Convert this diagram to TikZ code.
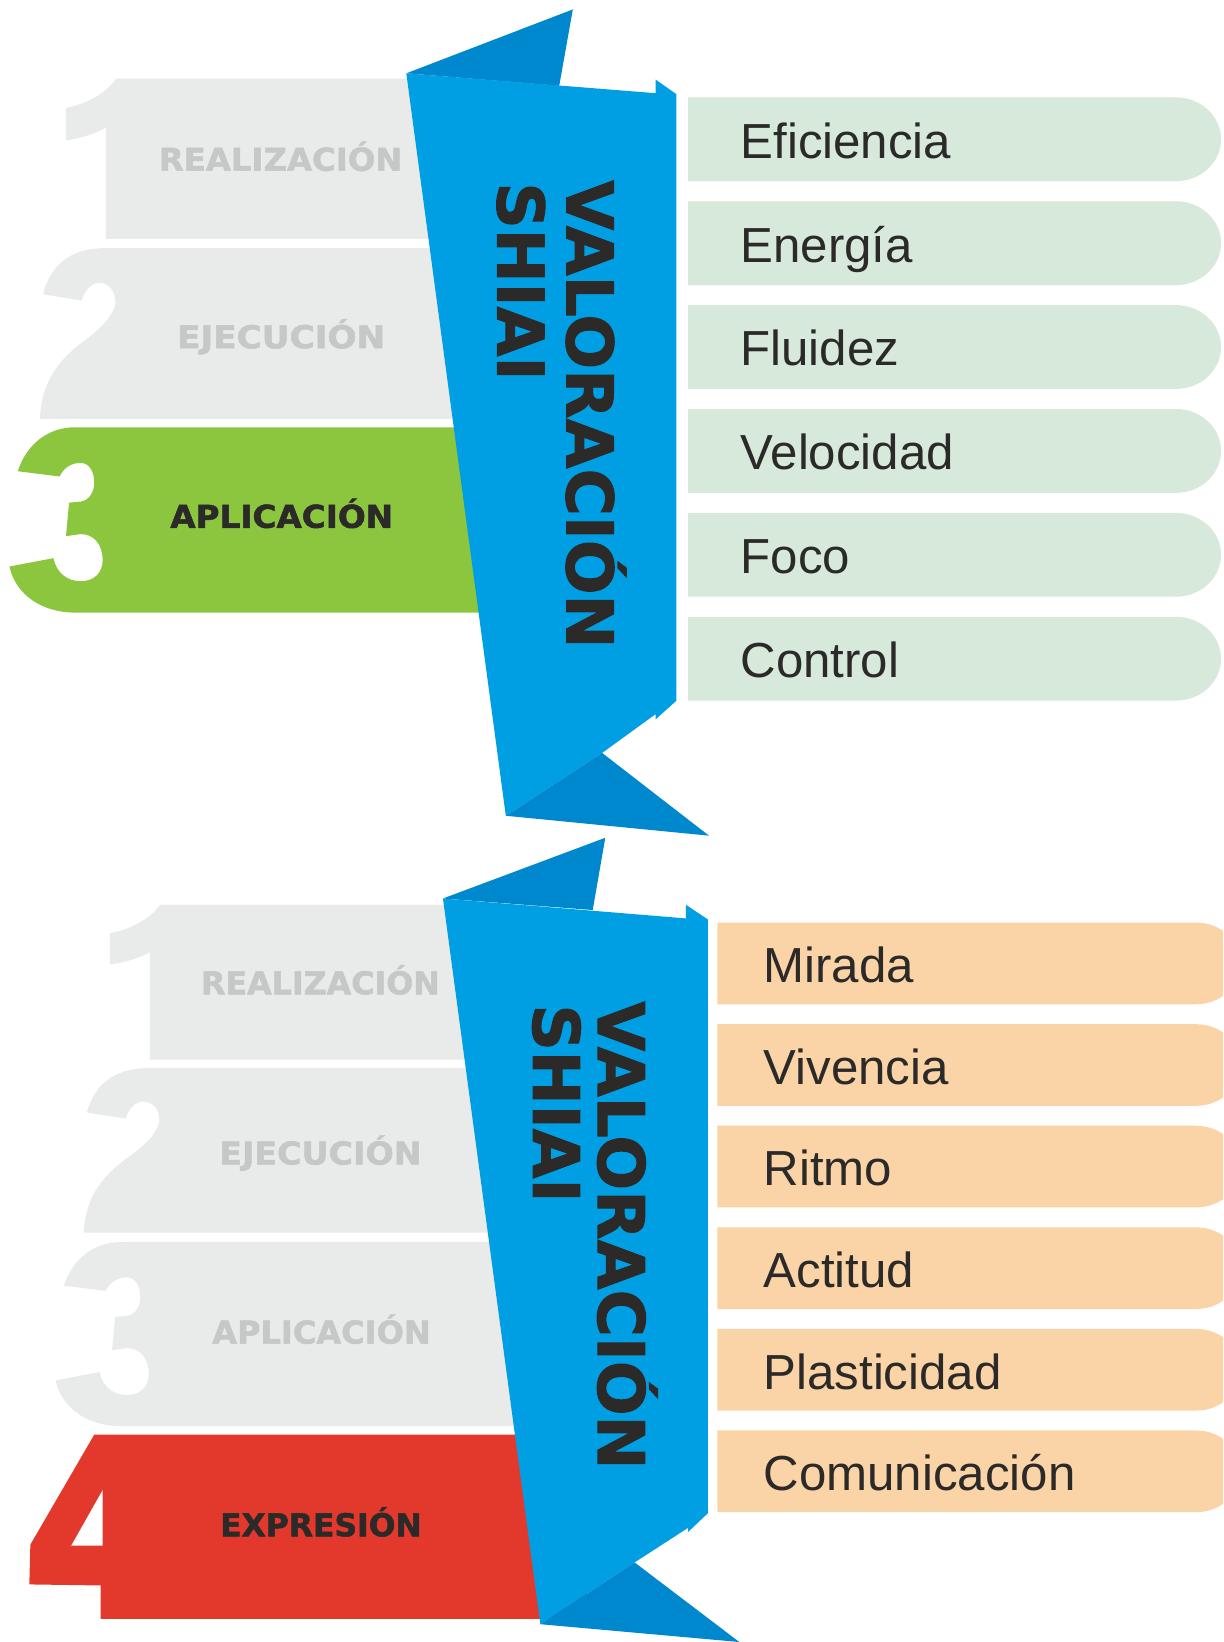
\documentclass[tikz,border=0pt]{standalone}
\usepackage{fontspec}
\setmainfont{Liberation Sans}
\newfontfamily\heavy{DejaVu Sans}[BoldFeatures={FakeBold=1.6}]
\definecolor{bannerblue}{HTML}{009FE3}
\definecolor{bannerdark}{HTML}{0088CF}
\definecolor{stepgray}{HTML}{E9EBEA}
\definecolor{labelgray}{HTML}{C6C7C7}
\definecolor{stepgreen}{HTML}{8CC63F}
\definecolor{stepred}{HTML}{E3392D}
\definecolor{textdark}{HTML}{2B2A29}
\definecolor{pillgreen}{HTML}{D6E9DA}
\definecolor{pillorange}{HTML}{FAD4A6}
\newcommand\shapeOne[1]{\fill[#1] (111,0) -- (480,0) -- (480,153) -- (101,153) -- (101,47)
  .. controls (92,52) and (78,57) .. (63,59) -- (63,28) .. controls (85,24) and (103,12) .. (111,0) -- cycle;}
\newcommand\shapeTwo[1]{\fill[#1] (38,163) .. controls (40,123) and (60,103) .. (85,85)
  .. controls (100,73) and (112,60) .. (110,48) .. controls (108,36) and (100,33) .. (94,33)
  .. controls (86,34) and (80,42) .. (78,50) -- (41,44) .. controls (48,18) and (65,0) .. (100,0)
  -- (480,0) -- (480,163) -- cycle;}
\newcommand\shapeThree[1]{\fill[#1] (72,0) -- (480,0) -- (480,177) -- (72,177)
  .. controls (40,177) and (15,160) .. (9,133) -- (51,125) .. controls (54,139) and (64,147) .. (77,147)
  .. controls (91,147) and (98,138) .. (98,127) .. controls (98,111) and (89,102) .. (77,102)
  -- (63,104) -- (66,72) -- (77,71) .. controls (85,70) and (90,62) .. (90,53)
  .. controls (90,42) and (85,34) .. (77,34) .. controls (67,34) and (60,40) .. (57,47)
  -- (17,42) .. controls (25,17) and (45,0) .. (72,0) -- cycle;}
\newcommand\wide[2]{\scalebox{#1}[1]{#2}}
\begin{document}
\begin{tikzpicture}[x=1pt,y=-1pt,
  steplabel/.style={font=\heavy\bfseries\fontsize{30}{30}\selectfont, anchor=base, inner sep=0},
  titletext/.style={font=\heavy\bfseries\fontsize{61.5}{60}\selectfont, text=textdark, rotate=-90, anchor=base west, inner sep=0},
  pilltext/.style={font=\fontsize{47}{47}\selectfont, text=textdark, anchor=base west, inner sep=0}]
\useasboundingbox (0,0) rectangle (1168,1568);
\clip (0,0) rectangle (1168,1568);
\fill[white] (0,0) rectangle (1168,1568);

% ---------- top group: steps ----------
\begin{scope}[shift={(0,75)}]\shapeOne{stepgray}\end{scope}
\begin{scope}[shift={(0,237)}]\shapeTwo{stepgray}\end{scope}
\begin{scope}[shift={(0,408)}]\shapeThree{stepgreen}\end{scope}
\node[steplabel, text=labelgray] (t1) at (268,163) {\wide{1.03}{REALIZACIÓN}};
\node[steplabel, text=labelgray] (t2) at (268.5,332.5) {\wide{1.09}{EJECUCIÓN}};
\node[steplabel, text=textdark] (t3) at (269,504) {\wide{1.04}{APLICACIÓN}};

% ---------- top banner ----------
\fill[bannerdark] (388,70) -- (547,9) -- (534,82) -- cycle;
\fill[bannerblue] (388,70) -- (626,89) -- (626,76) -- (646,90) -- (646,669) -- (626,687) -- (626,682)
  -- (575,719) -- (483,779) -- cycle;
\fill[bannerdark] (483,779) -- (575,719) -- (677,798) -- cycle;
\node[titletext] (v1) at (541,172) {VALORACIÓN};
\node[titletext] (s1) at (475,174) {SHIAI};

% ---------- top pills ----------
\foreach \t [count=\i] in {Eficiencia,Energía,Fluidez,Velocidad,Foco,Control}{
  \pgfmathsetmacro{\yy}{93+(\i-1)*99.2}
  \fill[pillgreen] (657,\yy) -- (1123,\yy) .. controls (1146.7,\yy) and (1166,\yy+17.9) .. (1166,\yy+40)
    .. controls (1166,\yy+62.1) and (1146.7,\yy+80) .. (1123,\yy+80) -- (657,\yy+80) -- cycle;
  \node[pilltext] (g\i) at (707,\yy+58) {\t};
}

% ---------- bottom group: steps ----------
\begin{scope}[shift={(42,864)}, yscale=0.967]\shapeOne{stepgray}\end{scope}
\begin{scope}[shift={(42,1020)}, yscale=0.963]\shapeTwo{stepgray}\end{scope}
\begin{scope}[shift={(44,1186)}, yscale=0.994]\shapeThree{stepgray}\end{scope}
\fill[stepred] (90,1370) -- (560,1370) -- (560,1546) -- (96,1546) -- (96,1514) -- (28,1513) -- (29,1475) -- cycle;
\fill[white] (98,1423) -- (98,1476) -- (68,1476) -- cycle;
\node[steplabel, text=labelgray] (b1) at (306,949.5) {\wide{1.01}{REALIZACIÓN}};
\node[steplabel, text=labelgray] (b2) at (306,1112) {\wide{1.06}{EJECUCIÓN}};
\node[steplabel, text=labelgray] (b3) at (307,1283) {\wide{1.02}{APLICACIÓN}};
\node[steplabel, text=textdark] (b4) at (306.5,1467) {EXPRESIÓN};

% ---------- bottom banner ----------
\fill[bannerdark] (423,858) -- (578,800) -- (566,869) -- cycle;
\fill[bannerblue] (423,858) -- (655,877) -- (655,864) -- (676,878) -- (676,1445) -- (657,1463) -- (657,1459)
  -- (606,1492) -- (516,1551) -- cycle;
\fill[bannerdark] (516,1551) -- (606,1492) -- (706,1568) -- cycle;
\node[titletext] (v2) at (571,956) {VALORACIÓN};
\node[titletext] (s2) at (509,959) {SHIAI};

% ---------- bottom pills ----------
\foreach \t [count=\i] in {Mirada,Vivencia,Ritmo,Actitud,Plasticidad,Comunicación}{
  \pgfmathsetmacro{\yy}{881+(\i-1)*97}
  \fill[pillorange] (685,\yy) -- (1142,\yy) .. controls (1165.7,\yy) and (1185,\yy+17.4) .. (1185,\yy+39)
    .. controls (1185,\yy+60.6) and (1165.7,\yy+78) .. (1142,\yy+78) -- (685,\yy+78) -- cycle;
  \node[pilltext] (o\i) at (729,\yy+57.5) {\t};
}
\end{tikzpicture}
\end{document}
